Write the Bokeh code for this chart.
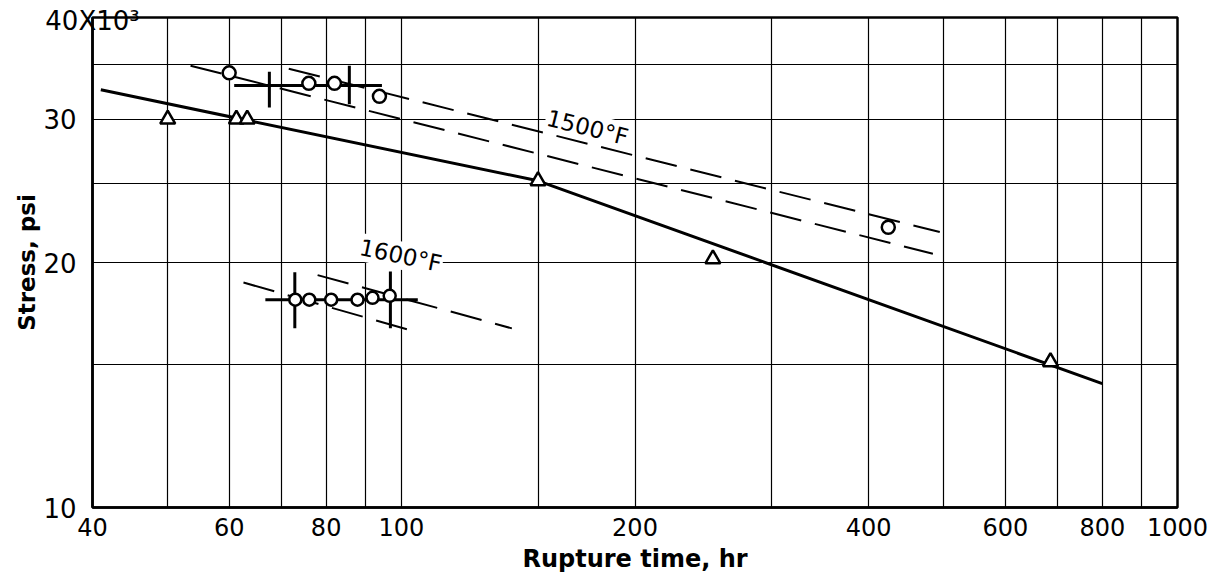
import math
from bokeh.plotting import figure
from bokeh.models import Range1d, FixedTicker, Label, LogAxis
from bokeh.embed import file_html
from bokeh.resources import INLINE

# Grid and tick positions (rupture time in hr, stress in 10^3 psi)
x_grid = [40, 50, 60, 70, 80, 90, 100, 150, 200, 300, 400, 500, 600, 700, 800, 900, 1000]
y_grid = [10, 15, 20, 25, 30, 35, 40]
x_ticks = [40, 60, 80, 100, 200, 400, 600, 800, 1000]
y_ticks = [10, 20, 30, 40]

# 1500 F tests (open circles)
c1500_t = [60, 76, 82, 93.7, 424]
c1500_s = [34.2, 33.2, 33.2, 32.0, 22.1]

# 1600 F tests (open circles)
c1600_t = [73.0, 76.1, 81.2, 87.8, 91.8, 96.6]
c1600_s = [18.0, 18.0, 18.0, 18.0, 18.1, 18.2]

# Comparison tests (open triangles)
tri_t = [50, 61.3, 63.3, 150, 252, 686]
tri_s = [30.0, 30.0, 30.0, 25.2, 20.2, 15.1]

# Solid curve through the triangles
curve_t = [41, 150, 800]
curve_s = [32.6, 25.2, 14.2]

# Dashed scatter bands
band1500_hi_t = [71.6, 494]
band1500_hi_s = [34.6, 21.8]
band1500_lo_t = [53.5, 484]
band1500_lo_s = [34.9, 20.5]
band1600_hi_t = [78, 138.8]
band1600_hi_s = [19.3, 16.6]
band1600_lo_t = [62.6, 105.2]
band1600_lo_s = [18.9, 16.4]

# Scatter ranges: horizontal spread and vertical bars
r1500_t = [60.9, 94.4]
r1500_s = 33.0
r1500_bar_t = [67.6, 85.7]
r1500_bar_lo = [31.0, 31.3]
r1500_bar_hi = [34.3, 34.9]
r1600_t = [66.8, 105.0]
r1600_s = 18.0
r1600_bar_t = [72.9, 96.8]
r1600_bar_lo = [16.6, 16.6]
r1600_bar_hi = [19.45, 19.5]

# Top stress label carrying the multiplier
top_tick = [40]
top_label = "40X10³"

FONT = "DejaVu Sans"

p = figure(width=1220, height=576, x_axis_type="log", y_axis_type="log",
           x_range=Range1d(40, 1000), y_range=Range1d(10, 40),
           output_backend="svg", toolbar_location=None,
           min_border_left=92, min_border_right=43,
           min_border_top=17, min_border_bottom=69)
p.background_fill_color = "white"
p.border_fill_color = "white"
p.outline_line_color = "black"
p.outline_line_width = 2.5

# grid
p.xgrid.ticker = FixedTicker(ticks=x_grid)
p.ygrid.ticker = FixedTicker(ticks=y_grid)
for g in (p.xgrid, p.ygrid):
    g.grid_line_color = "black"
    g.grid_line_width = 1.2
    g.grid_line_alpha = 1.0

# axes
p.xaxis.ticker = FixedTicker(ticks=x_ticks)
p.yaxis.ticker = FixedTicker(ticks=y_ticks)
p.yaxis.major_label_overrides = {40: ""}
for ax in (p.xaxis, p.yaxis):
    ax.axis_line_color = "black"
    ax.axis_line_width = 2.5
    ax.major_tick_line_color = None
    ax.minor_tick_line_color = None
    ax.major_label_text_font = FONT
    ax.major_label_text_color = "black"
    ax.axis_label_text_font = FONT
    ax.axis_label_text_font_style = "bold"
    ax.axis_label_text_color = "black"
p.xaxis.major_label_text_font_size = "24px"
p.yaxis.major_label_text_font_size = "26px"
p.xaxis.major_label_standoff = 4
p.yaxis.major_label_standoff = 10
p.xaxis.axis_label = "Rupture time, hr"
p.yaxis.axis_label = "Stress, psi"
p.xaxis.axis_label_text_font_size = "24px"
p.yaxis.axis_label_text_font_size = "23px"
p.xaxis.axis_label_standoff = 6
p.yaxis.axis_label_standoff = 0

# multiplier label sitting over the top-left corner of the frame
top_axis = LogAxis(ticker=FixedTicker(ticks=top_tick),
                   major_label_overrides={top_tick[0]: top_label},
                   axis_line_color=None, major_tick_line_color=None,
                   minor_tick_line_color=None, major_label_standoff=-24,
                   major_label_text_font=FONT, major_label_text_font_size="26px",
                   major_label_text_color="black")
try:
    top_axis.major_label_background_fill_color = "white"
except AttributeError:
    pass
p.add_layout(top_axis, "above")

# solid curve
p.line(curve_t, curve_s, line_color="black", line_width=3)

# dashed bands
for bt, bs in ((band1500_hi_t, band1500_hi_s), (band1500_lo_t, band1500_lo_s),
               (band1600_hi_t, band1600_hi_s), (band1600_lo_t, band1600_lo_s)):
    p.line(bt, bs, line_color="black", line_width=2, line_dash="32 14")

# scatter ranges
p.line(r1500_t, [r1500_s, r1500_s], line_color="black", line_width=3)
p.segment(x0=r1500_bar_t, y0=r1500_bar_lo, x1=r1500_bar_t, y1=r1500_bar_hi,
          line_color="black", line_width=3)
p.line(r1600_t, [r1600_s, r1600_s], line_color="black", line_width=3)
p.segment(x0=r1600_bar_t, y0=r1600_bar_lo, x1=r1600_bar_t, y1=r1600_bar_hi,
          line_color="black", line_width=3)

# markers
p.scatter(tri_t, tri_s, marker="triangle", size=15, fill_color="white",
          line_color="black", line_width=2.5)
p.scatter(c1500_t, c1500_s, marker="circle", size=13, fill_color="white",
          line_color="black", line_width=2.5)
p.scatter(c1600_t, c1600_s, marker="circle", size=12, fill_color="white",
          line_color="black", line_width=2.5)

# temperature labels
p.add_layout(Label(x=173.7, y=29.3, text="1500°F", angle=-0.245,
                   text_font=FONT, text_font_size="23px", text_color="black",
                   text_align="center", text_baseline="middle",
                   background_fill_color="white", padding=1))
p.add_layout(Label(x=99.8, y=20.4, text="1600°F", angle=-0.21,
                   text_font=FONT, text_font_size="23px", text_color="black",
                   text_align="center", text_baseline="middle",
                   background_fill_color="white", padding=1))

open("out.html", "w").write(file_html(p, INLINE))
